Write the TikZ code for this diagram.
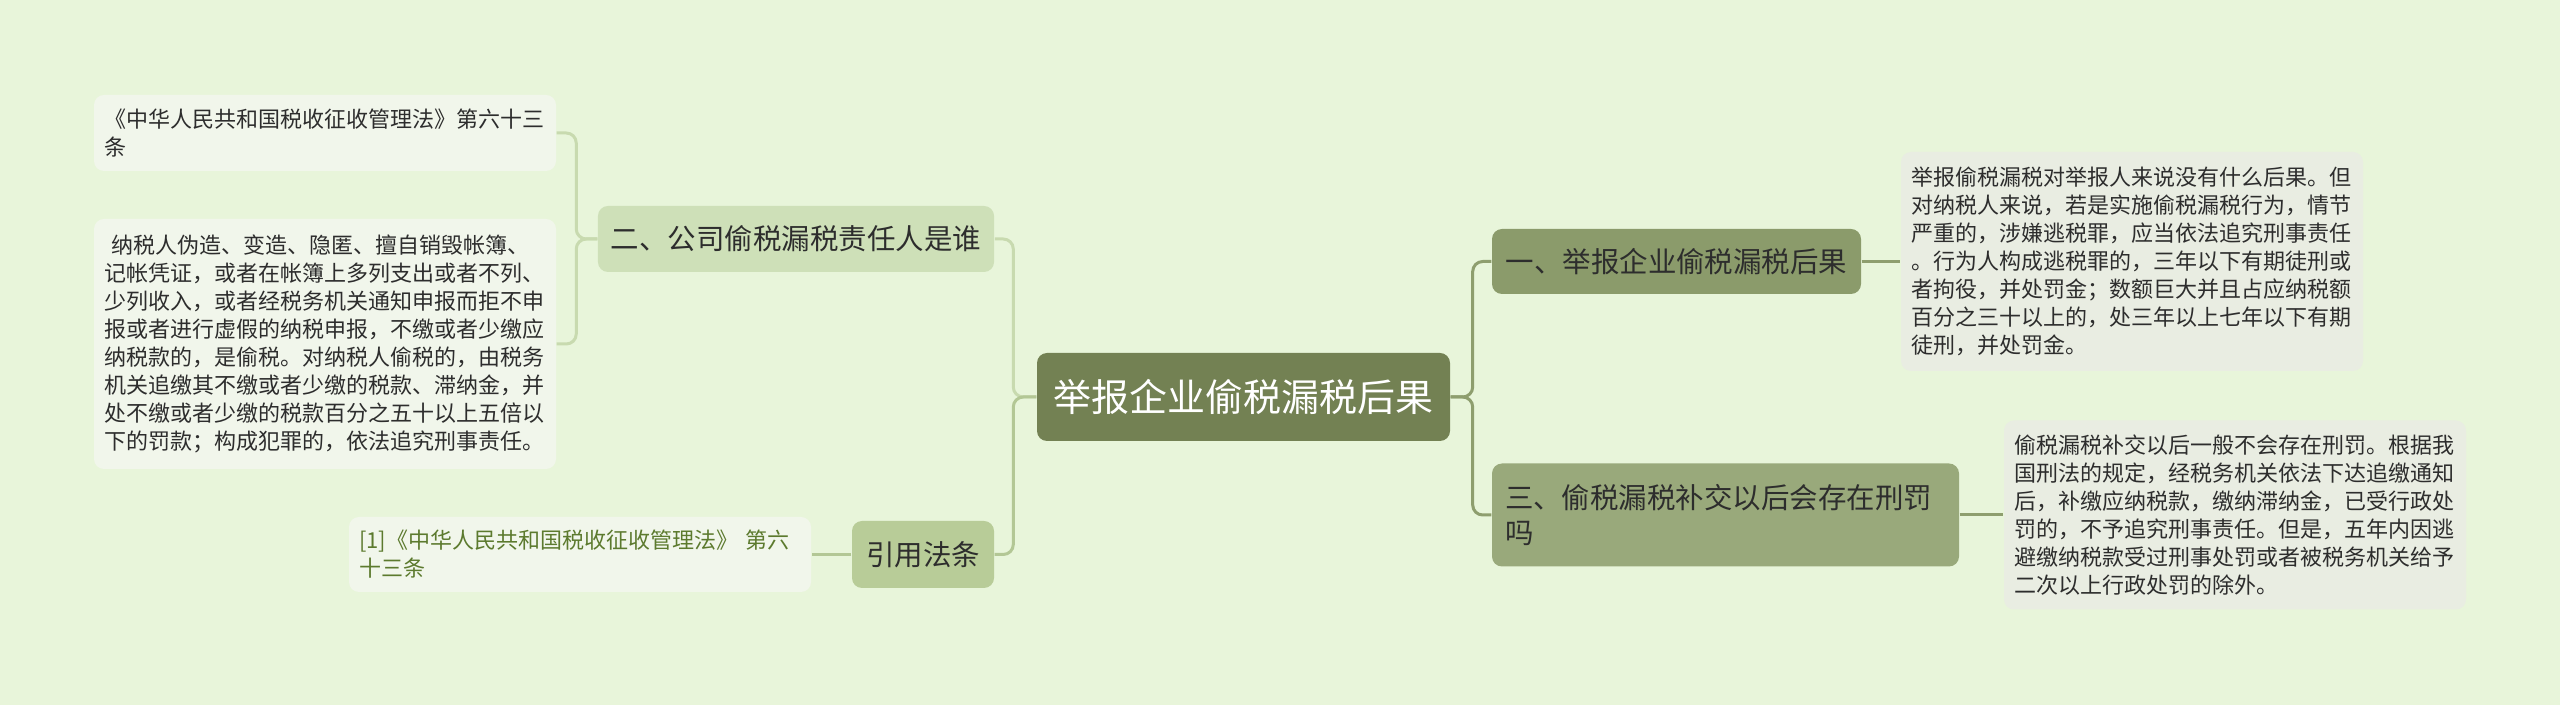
\documentclass[tikz,border=0pt]{standalone}
\usepackage{fontspec}
\newfontfamily\cjk{Noto Sans CJK SC}
\usetikzlibrary{positioning}

\definecolor{bgGreen}{HTML}{E8F5DA}
\definecolor{rootFill}{HTML}{738153}
\definecolor{oliveA}{HTML}{8B9B6B}
\definecolor{oliveB}{HTML}{99A97B}
\definecolor{paleA}{HTML}{CEE0B8}
\definecolor{paleB}{HTML}{B8CC98}
\definecolor{leafR}{HTML}{E9EDE2}
\definecolor{leafL}{HTML}{F1F6EB}
\definecolor{lineR}{HTML}{8E9E6E}
\definecolor{lineL}{HTML}{C8DAAF}
\definecolor{lineC}{HTML}{B3C795}
\definecolor{citeText}{HTML}{5C7A2E}
\definecolor{inkDark}{HTML}{2D2D2D}

\begin{document}
\begin{tikzpicture}[
    rootbox/.style={fill=rootFill, rounded corners=0.1cm, inner sep=0pt,
        minimum width=4.13cm, minimum height=0.88cm, text=white,
        font=\cjk\fontsize{10.8pt}{13pt}\selectfont},
    branch/.style={rounded corners=0.1cm, inner xsep=0.13cm, inner ysep=0pt,
        text=inkDark, font=\cjk\fontsize{8.1pt}{9.96pt}\selectfont},
    leaf/.style={rounded corners=0.1cm, inner xsep=0.1cm, inner ysep=0pt,
        text width=4.42cm, align=left, text=inkDark,
        font=\cjk\fontsize{6.26pt}{7.97pt}\selectfont},
    conR/.style={draw=lineR, line width=0.03cm, rounded corners=0.1cm},
    conL/.style={draw=lineL, line width=0.03cm, rounded corners=0.1cm},
]

% background
\fill[bgGreen] (0, 0) rectangle (25.6, -7.05);
\useasboundingbox (0, 0) rectangle (25.6, -7.05);

% --- Root ---
\node[rootbox] (root) at (12.435, -3.97) {举报企业偷税漏税后果};

% --- Right side ---
\node[branch, fill=oliveA, minimum width=3.69cm, minimum height=0.65cm]
    (b1) at (16.765, -2.615) {一、举报企业偷税漏税后果};
\node[branch, fill=oliveB, minimum height=1.03cm, text width=4.41cm, align=left]
    (b3) at (17.255, -5.15) {三、偷税漏税补交以后会存在刑罚\\吗};

\node[leaf, fill=leafR, minimum height=2.19cm] (r1) at (21.32, -2.615)
    {举报偷税漏税对举报人来说没有什么后果。但\\
     对纳税人来说，若是实施偷税漏税行为，情节\\
     严重的，涉嫌逃税罪，应当依法追究刑事责任\\
     。行为人构成逃税罪的，三年以下有期徒刑或\\
     者拘役，并处罚金；数额巨大并且占应纳税额\\
     百分之三十以上的，处三年以上七年以下有期\\
     徒刑，并处罚金。};
\node[leaf, fill=leafR, minimum height=1.89cm] (r2) at (22.35, -5.15)
    {偷税漏税补交以后一般不会存在刑罚。根据我\\
     国刑法的规定，经税务机关依法下达追缴通知\\
     后，补缴应纳税款，缴纳滞纳金，已受行政处\\
     罚的，不予追究刑事责任。但是，五年内因逃\\
     避缴纳税款受过刑事处罚或者被税务机关给予\\
     二次以上行政处罚的除外。};

% --- Left side ---
\node[branch, fill=paleA, minimum width=3.96cm, minimum height=0.66cm]
    (b2) at (7.96, -2.39) {二、公司偷税漏税责任人是谁};
\node[branch, fill=paleB, minimum width=1.42cm, minimum height=0.67cm]
    (b4) at (9.23, -5.545) {引用法条};

\node[leaf, fill=leafL, minimum height=0.76cm] (l1) at (3.25, -1.33)
    {《中华人民共和国税收征收管理法》第六十三\\条};
\node[leaf, fill=leafL, minimum height=2.5cm] (l2) at (3.25, -3.44)
    {\ 纳税人伪造、变造、隐匿、擅自销毁帐簿、\\
     记帐凭证，或者在帐簿上多列支出或者不列、\\
     少列收入，或者经税务机关通知申报而拒不申\\
     报或者进行虚假的纳税申报，不缴或者少缴应\\
     纳税款的，是偷税。对纳税人偷税的，由税务\\
     机关追缴其不缴或者少缴的税款、滞纳金，并\\
     处不缴或者少缴的税款百分之五十以上五倍以\\
     下的罚款；构成犯罪的，依法追究刑事责任。};
\node[leaf, fill=leafL, text=citeText, minimum height=0.75cm] (cite) at (5.80, -5.545)
    {[1]《中华人民共和国税收征收管理法》 第六\\十三条};

% Connectors
\draw[conR] (root.east) -- ++(0.22, 0) |- (b1.west);
\draw[conR] (root.east) -- ++(0.22, 0) |- (b3.west);
\draw[conR] (b1.east) -- (r1.west);
\draw[conR] (b3.east) -- (r2.west);

\draw[conL] (root.west) -- ++(-0.23, 0) |- (b2.east);
\draw[conL, draw=lineC] (root.west) -- ++(-0.23, 0) |- (b4.east);
\draw[conL] (b2.west) -- ++(-0.21, 0) |- (l1.east);
\draw[conL] (b2.west) -- ++(-0.21, 0) |- (l2.east);
\draw[conL, draw=lineC] (b4.west) -- (cite.east);

\end{tikzpicture}
\end{document}
